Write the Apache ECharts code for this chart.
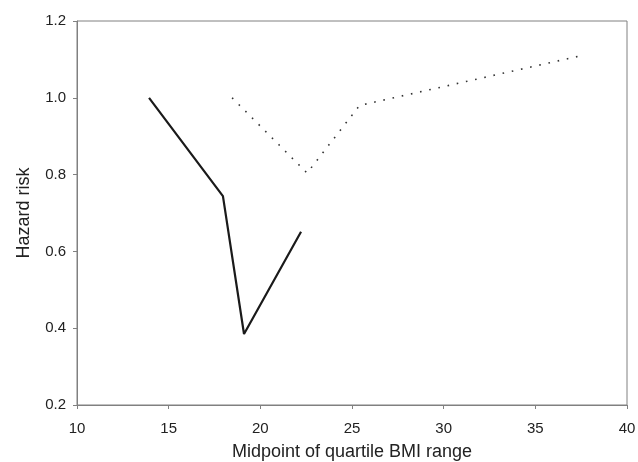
<!DOCTYPE html>
<html>
<head>
<meta charset="utf-8" />
<script src="https://cdn.jsdelivr.net/npm/echarts@6/dist/echarts.min.js"></script>
<style>
	html, body { margin: 0; padding: 0; background: #fff; }
	#chart { width: 638px; height: 462px; }
</style>
</head>
<body>
<div id="chart"></div>
<script type="text/javascript">
// solid line (x = BMI midpoint, y = hazard risk)
var solidX = [13.93, 17.96, 19.11, 22.22];
var solidY = [1.00, 0.744, 0.385, 0.651];
// dotted line
var dottedX = [18.46, 22.55, 25.41, 37.53];
var dottedY = [1.00, 0.804, 0.98, 1.11];

var xTicks = [10, 15, 20, 25, 30, 35, 40];
var yTicks = [0.2, 0.4, 0.6, 0.8, 1.0, 1.2];

function pairs(xs, ys) {
	var out = [];
	for (var i = 0; i < xs.length; i++) out.push([xs[i], ys[i]]);
	return out;
}

var myChart = echarts.init(document.getElementById('chart'));

var axisGray = '#808080';
var font = 'Liberation Sans, Arial, sans-serif';

var option = {
	animation: false,
	grid: { left: 77, right: 11, top: 21, bottom: 57, show: true, borderColor: axisGray, borderWidth: 1,
		containLabel: false, outerBoundsMode: 'none' },
	xAxis: {
		type: 'value',
		min: xTicks[0], max: xTicks[xTicks.length - 1], interval: 5,
		name: 'Midpoint of quartile BMI range',
		nameLocation: 'middle', nameGap: 38,
		nameTextStyle: { fontFamily: font, fontSize: 18, color: '#222' },
		axisLine: { lineStyle: { color: axisGray } },
		axisTick: { length: 4, lineStyle: { color: axisGray } },
		axisLabel: { fontFamily: font, fontSize: 15, color: '#222', margin: 16 },
		splitLine: { show: false }
	},
	yAxis: {
		type: 'value',
		min: yTicks[0], max: yTicks[yTicks.length - 1], interval: 0.2,
		name: 'Hazard risk',
		nameLocation: 'middle', nameGap: 44,
		nameTextStyle: { fontFamily: font, fontSize: 18, color: '#222' },
		axisLine: { show: true, lineStyle: { color: axisGray } },
		axisTick: { show: true, length: 4, lineStyle: { color: axisGray } },
		axisLabel: { fontFamily: font, fontSize: 15, color: '#222', margin: 11,
			formatter: function (v) { return v.toFixed(1); } },
		splitLine: { show: false }
	},
	series: [
		{
			type: 'line',
			data: pairs(solidX, solidY),
			symbol: 'none',
			lineStyle: { color: '#1a1a1a', width: 2.2 }
		},
		{
			type: 'line',
			data: pairs(dottedX, dottedY),
			symbol: 'none',
			lineStyle: { color: '#333', width: 1.6, type: [1.6, 7.8] }
		}
	]
};
myChart.setOption(option);
</script>
</body>
</html>
